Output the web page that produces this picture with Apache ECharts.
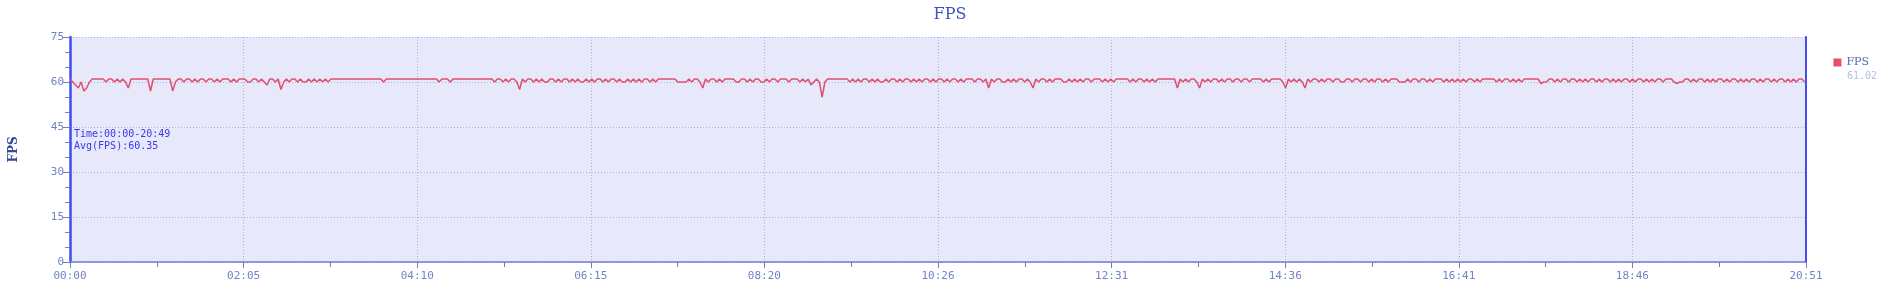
<!DOCTYPE html>
<html>
<head>
<meta charset="utf-8">
<style>html,body{margin:0;padding:0;background:#fff;}#chart{width:1900px;height:296px;}</style>
<script src="https://cdn.jsdelivr.net/npm/echarts@6/dist/echarts.min.js"></script>
</head>
<body>
<div id="chart"></div>
<script>
// ---- data ----
const chartTitle = 'FPS';
const seriesName = 'FPS';
const legendValue = '61.02';
const infoLines = ['Time:00:00-20:49', 'Avg(FPS):60.35'];
const sampleSeconds = 2;          // one reading every 2 s
const totalSeconds = 1251;        // 20:51
const yTicks = [0, 15, 30, 45, 60, 75];

const fpsPart1 = [61,60,59,58,60,57,58,60,61, 61,61,61,61, 60,61,61,60,61,60,61,60, 58,
  61,61,61,61,61,61,61, 57, 61,61,61,61,61,61,61, 57,
  60,61,61,60,61,61,60,61,60,61,61,60,61,61,60,61,60,61,61,61,60,61,60,61,
  61,61,60,60,61,61,60,61,60, 59, 61,61,60,61, 57.5,
  60,61,60,61,61,60,61,60,60,61,60,61,60,61,60,61,60,
  61,61,61,61,61,61,61,61,61,61,61,61,61,61,61,61,61,61,61, 60,
  61,61,61,61,61,61,61,61,61,61,61,61,61,61,61,61,61,61,61, 60, 61,61,61, 60,
  61,61,61,61,61,61,61,61,61,61,61,61,61,61,61,
  60,61,61,60,61,60,61,61,60, 57.5,
  61,60,61,61,60,61,60,61,60,60,61,61,60,61,60,61,61,60,61,60,61,60,60,61,60,61,60,61,61,60,
  61,60,61,61,60,61,60,60,61,60,61,60,61,60,61,61];
const fpsPart2 = [60,61,60,61, 61,61,61,61,61,61, 60,60,60,60, 61,60,61,61,60, 58,
  61,60,61,61,60,61,60,61,61, 61,61,60,60,61,61,60,61,60,61,61,60,
  60,61,60,61,61,60,61,61,61,60,61,61,61, 60,61,60,61,59,60,61,60, 55,
  60,61,61,61,61,61,61,61,61,
  60,61,60,61,60,61,61,60,61,60,61,60,60,61,60,61,61,60,61,60,61,61,60,61,60,61,60,61,61,60,
  61,60,61,61,60,61,60,61,61,60,61,60,61,61,61,60,61,61,60,61, 58,
  61,60,61,61,60,60,61,60,61,60,61,61,60,61,60, 58,
  61,60,61,61,60,61,60,61,61,61,60,60,61,60,61,60,61,60,61,61,60,61,61,61,60,61,60,61,60,61,
  61,61,61,61,60,61,60,61,61,60,61,60,61,60,61,61,61,61,61,61,61, 58,
  61,60,61,60,61,61,60, 58, 61,60,61,60,61,61,60,61,60,61];
const fpsPart3 = [61,60,61,61,60,61,61,60,61,61,61,61,60,61,60,61,61,61,61,60, 58,
  61,60,61,60,61,60, 58,
  61,60,61,61,60,61,60,61,61,60,61,61,60,60,61,61,60,61,61,60,61,61,60,61,60,61,61,60,61,60,61,61,61,
  60,60,60,
  61,60,61,61,60,61,61,60,61,60,61,61,61,60,61,60,61,60,61,60,61,60,61,61,60,61,60,61,61,61,
  61,61,60,61,60,61,61,60,61,60,61,60,61,61,61,61,61,61,
  59.5,60,60,
  61,61,60,61,60,61,61,60,61,61,60,61,60,61,60,61,61,60,61,60,61,61,60,61,60,61,60,61,61,60,
  61,60,61,61,60,61,60,61,60,61,61,60,61,61,61,
  60,59.5,60,60,
  61,61,60,61,60,61,61,60,61,60,61,60,61,61,60,61,60,61,61,60,61,60,61,60,61,61,60,61,60,61,
  61,60,61,60,61,61,60,61,60,61,60,61,61,60];

const fpsValues = fpsPart1.concat(fpsPart2, fpsPart3);
const seriesData = fpsValues.map((v, i) => [Math.min(i * sampleSeconds, totalSeconds), v]);

function fmtTime(s) {
  const r = Math.round(s);
  const m = Math.floor(r / 60), sec = r % 60;
  return String(m).padStart(2, '0') + ':' + String(sec).padStart(2, '0');
}

const axisTextColor = '#7282c4';
const monoFont = "'DejaVu Sans Mono', 'Liberation Mono', monospace";
const serifFont = "'DejaVu Serif', 'Liberation Serif', serif";

const chart = echarts.init(document.getElementById('chart'));
chart.setOption({
  animation: false,
  backgroundColor: '#ffffff',
  title: {
    text: chartTitle, left: 'center', top: 2,
    textStyle: { fontFamily: serifFont, fontSize: 16, fontWeight: 'normal', color: '#4052c0' }
  },
  legend: {
    data: [seriesName], right: 26, top: 52, orient: 'vertical',
    icon: 'rect', itemWidth: 8, itemHeight: 8, itemGap: 4,
    textStyle: { fontFamily: serifFont, fontSize: 11, color: '#5565a8' }
  },
  graphic: [
    { type: 'text', left: 1847, top: 71, style: { text: legendValue, fill: '#b6bde6', font: "10px " + monoFont } },
    { type: 'text', left: 74, top: 128, style: { text: infoLines.join('\n'), fill: '#3838f0', font: "10px " + monoFont, lineHeight: 12 } }
  ],
  grid: {
    left: 70, right: 94, top: 37, bottom: 34,
    show: true, backgroundColor: '#e8e8fb', borderWidth: 0
  },
  xAxis: {
    type: 'value', min: 0, max: totalSeconds, interval: totalSeconds / 10,
    axisLine: { show: true, lineStyle: { color: '#6f7fd0', width: 1.5 } },
    axisTick: { show: true, length: 6, lineStyle: { color: '#6f7fc0' } },
    minorTick: { show: true, splitNumber: 2, length: 5, lineStyle: { color: '#6f7fc0' } },
    axisLabel: { color: axisTextColor, fontFamily: monoFont, fontSize: 11, margin: 9,
      formatter: v => fmtTime(v), showMinLabel: true, showMaxLabel: true },
    splitLine: { show: true, lineStyle: { color: '#a9aef0', type: [1, 2], width: 1 } }
  },
  yAxis: [{
    type: 'value', min: 0, max: 75, interval: 15,
    name: seriesName, nameLocation: 'middle', nameGap: 50, nameRotate: 90,
    nameTextStyle: { fontFamily: serifFont, fontSize: 12, fontWeight: 'bold', color: '#3a4a98' },
    axisLine: { show: true, lineStyle: { color: '#3c4cf2', width: 2.5 } },
    axisTick: { show: true, length: 7, lineStyle: { color: '#6f7fc0' } },
    minorTick: { show: true, splitNumber: 3, length: 5, lineStyle: { color: '#6f7fc0' } },
    axisLabel: { color: axisTextColor, fontFamily: monoFont, fontSize: 11, margin: 6,
      customValues: yTicks },
    splitLine: { show: true, lineStyle: { color: '#a9aef0', type: [1, 2], width: 1 } }
  }, {
    type: 'value', min: 0, max: 75, position: 'right',
    axisLine: { show: true, lineStyle: { color: '#4a4af2', width: 2 } },
    axisTick: { show: false }, axisLabel: { show: false }, splitLine: { show: false }
  }],
  series: [{
    name: seriesName, type: 'line', data: seriesData, showSymbol: false, symbol: 'none',
    yAxisIndex: 0,
    lineStyle: { color: '#e0506c', width: 1.5 }, itemStyle: { color: '#ea4e68' }
  }]
});
</script>
</body>
</html>
